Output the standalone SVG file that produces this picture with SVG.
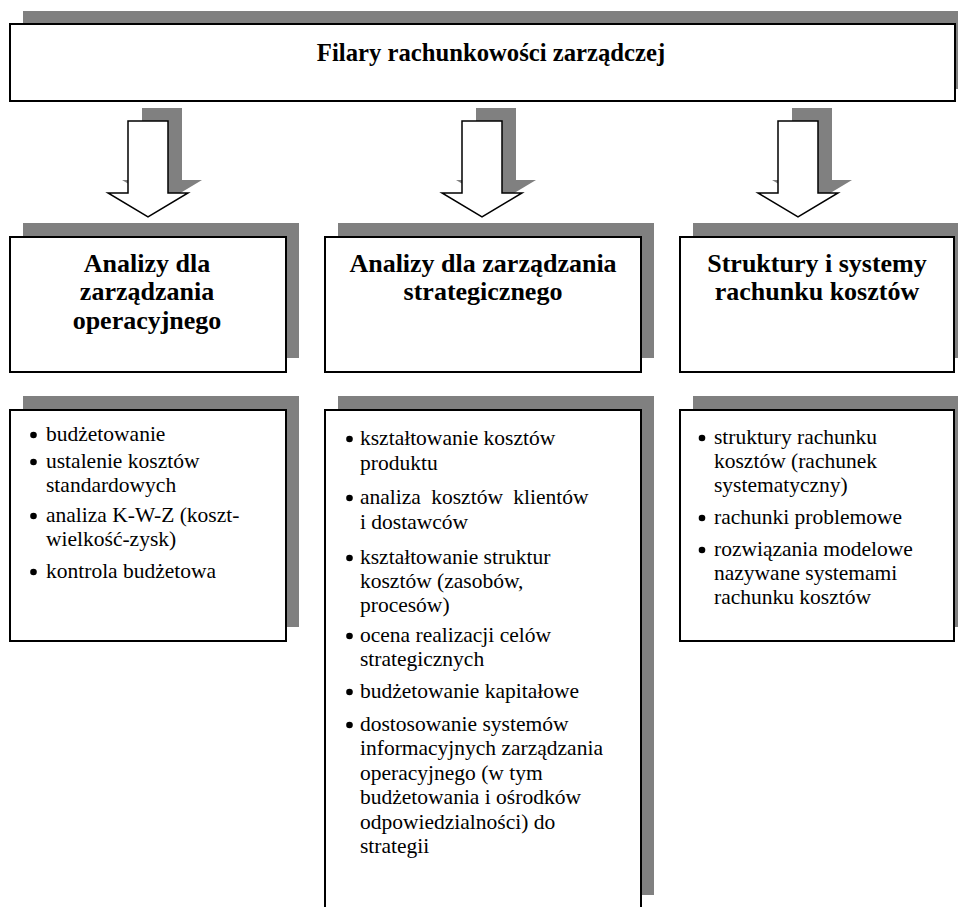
<svg xmlns="http://www.w3.org/2000/svg" width="958" height="907" viewBox="0 0 958 907">
<style>
.bg{fill:#ffffff}
.sh{fill:#808080;stroke:none}
.box{fill:#ffffff;stroke:#000000;stroke-width:2}
.arr{fill:#ffffff;stroke:#000000;stroke-width:1.5;stroke-linejoin:miter}
.t{font-family:'Liberation Serif','Times New Roman',serif;font-weight:bold;font-size:26px;fill:#000;text-anchor:middle}
.l{font-family:'Liberation Serif','Times New Roman',serif;font-size:21.5px;fill:#000}
.d{fill:#000}
</style>
<defs>
<polygon id="arrow" points="-20,0 20,0 20,72 40,72 0,96 -40,72 -20,72"/>
</defs>
<rect class="bg" x="0" y="0" width="958" height="907"/>

<g id="top">
<rect class="sh" x="23" y="11" width="940" height="78"/>
<rect class="box" x="10" y="24" width="945" height="77"/>
<text class="t" x="491" y="61" style="font-size:24.7px">Filary rachunkowości zarządczej</text>
</g>

<g id="connectors">
<use href="#arrow" class="sh" x="162" y="108"/>
<use href="#arrow" class="arr" x="148" y="121"/>
<use href="#arrow" class="sh" x="496" y="108"/>
<use href="#arrow" class="arr" x="482" y="121"/>
<use href="#arrow" class="sh" x="812" y="108"/>
<use href="#arrow" class="arr" x="798" y="121"/>
</g>

<g id="h1">
<rect class="sh" x="23" y="223" width="276" height="135"/>
<rect class="box" x="10" y="237" width="276" height="135"/>
<text class="t" x="147" y="271.5">Analizy dla</text>
<text class="t" x="147" y="300">zarządzania</text>
<text class="t" x="147" y="328.5">operacyjnego</text>
</g>

<g id="h2">
<rect class="sh" x="338" y="223" width="316" height="135"/>
<rect class="box" x="325" y="237" width="316" height="135"/>
<text class="t" x="483" y="271.5">Analizy dla zarządzania</text>
<text class="t" x="483" y="300">strategicznego</text>
</g>

<g id="h3">
<rect class="sh" x="693" y="223" width="274" height="135"/>
<rect class="box" x="680" y="237" width="274" height="135"/>
<text class="t" x="817" y="271.5">Struktury i systemy</text>
<text class="t" x="817" y="300">rachunku kosztów</text>
</g>

<g id="list1">
<rect class="sh" x="23" y="396" width="276" height="231"/>
<rect class="box" x="10" y="410" width="276" height="231"/>
<circle class="d" cx="33.5" cy="435" r="3.3"/>
<text class="l" x="46" y="441">budżetowanie</text>
<circle class="d" cx="33.5" cy="462" r="3.3"/>
<text class="l" x="46" y="468">ustalenie kosztów</text>
<text class="l" x="46" y="492">standardowych</text>
<circle class="d" cx="33.5" cy="516" r="3.3"/>
<text class="l" x="46" y="522">analiza K-W-Z (koszt-</text>
<text class="l" x="46" y="546">wielkość-zysk)</text>
<circle class="d" cx="33.5" cy="572" r="3.3"/>
<text class="l" x="46" y="578">kontrola budżetowa</text>
</g>

<g id="list2">
<rect class="sh" x="338" y="396" width="316" height="499"/>
<rect class="box" x="325" y="410" width="316" height="510"/>
<circle class="d" cx="349.5" cy="439" r="3.3"/>
<text class="l" x="360" y="445">kształtowanie kosztów</text>
<text class="l" x="360" y="470">produktu</text>
<circle class="d" cx="349.5" cy="498" r="3.3"/>
<text class="l" x="360" y="504" word-spacing="5">analiza kosztów klientów</text>
<text class="l" x="360" y="529">i dostawców</text>
<circle class="d" cx="349.5" cy="558" r="3.3"/>
<text class="l" x="360" y="564">kształtowanie struktur</text>
<text class="l" x="360" y="588">kosztów (zasobów,</text>
<text class="l" x="360" y="612">procesów)</text>
<circle class="d" cx="349.5" cy="636" r="3.3"/>
<text class="l" x="360" y="642">ocena realizacji celów</text>
<text class="l" x="360" y="666">strategicznych</text>
<circle class="d" cx="349.5" cy="692" r="3.3"/>
<text class="l" x="360" y="698">budżetowanie kapitałowe</text>
<circle class="d" cx="349.5" cy="725" r="3.3"/>
<text class="l" x="360" y="731">dostosowanie systemów</text>
<text class="l" x="360" y="755">informacyjnych zarządzania</text>
<text class="l" x="360" y="780">operacyjnego (w tym</text>
<text class="l" x="360" y="804">budżetowania i ośrodków</text>
<text class="l" x="360" y="829">odpowiedzialności) do</text>
<text class="l" x="360" y="853">strategii</text>
</g>

<g id="list3">
<rect class="sh" x="693" y="396" width="274" height="231"/>
<rect class="box" x="680" y="410" width="274" height="231"/>
<circle class="d" cx="702" cy="438" r="3.3"/>
<text class="l" x="714" y="444">struktury rachunku</text>
<text class="l" x="714" y="468">kosztów (rachunek</text>
<text class="l" x="714" y="492">systematyczny)</text>
<circle class="d" cx="702" cy="518" r="3.3"/>
<text class="l" x="714" y="524">rachunki problemowe</text>
<circle class="d" cx="702" cy="550" r="3.3"/>
<text class="l" x="714" y="556">rozwiązania modelowe</text>
<text class="l" x="714" y="580">nazywane systemami</text>
<text class="l" x="714" y="604">rachunku kosztów</text>
</g>
</svg>
